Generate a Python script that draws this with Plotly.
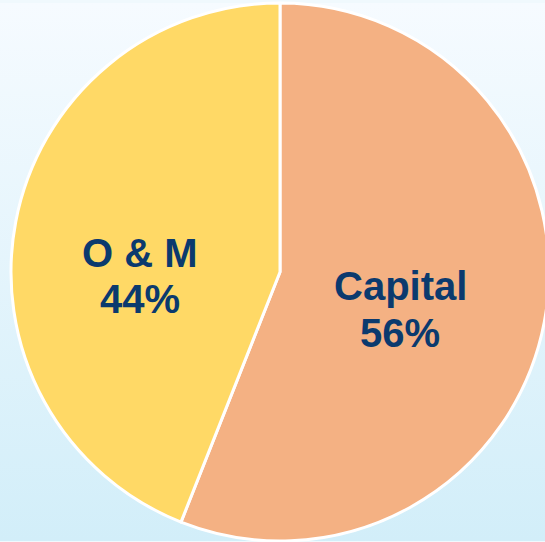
import plotly.graph_objects as go

labels = ["Capital", "O & M"]
values = [56, 44]
colors = ["#F4B183", "#FFD966"]
label_pos_x = [400, 140]
label_line_y = [(285, 332), (252, 298)]

W, H = 560, 542
text_color = "#0B3A6E"

fig = go.Figure()

# gradient background
fig.add_trace(go.Scatter(
    x=[0, 1, 1, 0, 0], y=[0, 0, 1, 1, 0], mode="lines", fill="toself",
    line=dict(width=0), hoverinfo="skip", showlegend=False,
    fillgradient=dict(type="vertical",
                      colorscale=[[0, "#D2EEF9"], [1, "#F6FBFF"]]),
))

fig.add_trace(go.Pie(
    labels=labels, values=values, sort=False, direction="clockwise",
    rotation=0, marker=dict(colors=colors, line=dict(color="white", width=3)),
    textinfo="none", hoverinfo="label+percent", showlegend=False,
    domain=dict(x=[0, 1], y=[0, 1]),
))

total = sum(values)
annotations = []
for lab, v, px, (py1, py2) in zip(labels, values, label_pos_x, label_line_y):
    for txt, py in ((lab, py1), (f"{round(100 * v / total)}%", py2)):
        annotations.append(dict(
            text=f"<b>{txt}</b>",
            x=px / W, y=1 - py / H, xref="paper", yref="paper",
            showarrow=False, xanchor="center", yanchor="middle",
            font=dict(family="Liberation Sans, Arial", size=40, color=text_color),
        ))

fig.update_layout(
    width=W, height=H,
    margin=dict(l=0, r=0, t=3, b=1),
    paper_bgcolor="#F0F9FD", plot_bgcolor="rgba(0,0,0,0)",
    xaxis=dict(visible=False, range=[0, 1], fixedrange=True),
    yaxis=dict(visible=False, range=[0, 1], fixedrange=True),
    annotations=annotations,
)

fig.write_html("out.html", config={"displayModeBar": False},
               post_script="document.body.style.margin='0';document.body.style.overflow='hidden';")
